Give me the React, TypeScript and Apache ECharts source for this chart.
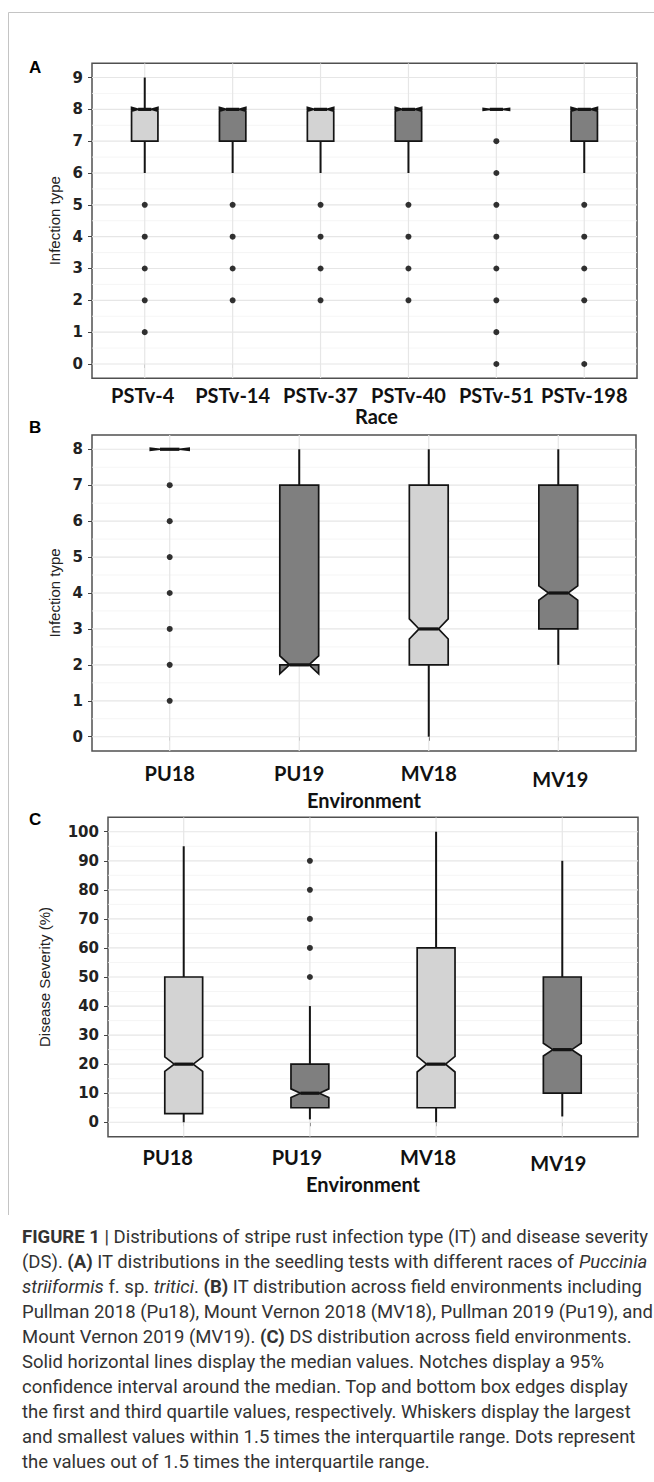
import React, { useEffect, useRef } from 'react';
import * as echarts from 'echarts';

// ---------- Panel A: infection type by race ----------
const raceCategories = ['PSTv-4', 'PSTv-14', 'PSTv-37', 'PSTv-40', 'PSTv-51', 'PSTv-198'];
const raceWhiskerLow = [6, 6, 6, 6, 8, 6];
const raceQ1 = [7, 7, 7, 7, 8, 7];
const raceMedian = [8, 8, 8, 8, 8, 8];
const raceQ3 = [8, 8, 8, 8, 8, 8];
const raceWhiskerHigh = [9, 8, 8, 8, 8, 8];
const raceNotchLow = [7.94, 7.94, 7.94, 7.94, 7.97, 7.94];
const raceNotchHigh = [8.06, 8.06, 8.06, 8.06, 8.03, 8.06];
const raceOutliers = [
  [5, 4, 3, 2, 1],
  [5, 4, 3, 2],
  [5, 4, 3, 2],
  [5, 4, 3, 2],
  [7, 6, 5, 4, 3, 2, 1, 0],
  [5, 4, 3, 2, 0],
];
const raceYTicks = [0, 1, 2, 3, 4, 5, 6, 7, 8, 9];

// ---------- Panel B: infection type by environment ----------
const envCategories = ['PU18', 'PU19', 'MV18', 'MV19'];
const envItWhiskerLow = [8, 2, 0, 2];
const envItQ1 = [8, 2, 2, 3];
const envItMedian = [8, 2, 3, 4];
const envItQ3 = [8, 7, 7, 7];
const envItWhiskerHigh = [8, 8, 8, 8];
const envItNotchLow = [7.97, 1.75, 2.72, 3.8];
const envItNotchHigh = [8.03, 2.25, 3.28, 4.2];
const envItOutliers = [[7, 6, 5, 4, 3, 2, 1], [], [], []];
const envItYTicks = [0, 1, 2, 3, 4, 5, 6, 7, 8];

// ---------- Panel C: disease severity by environment ----------
const envDsWhiskerLow = [0, 1, 0, 2];
const envDsQ1 = [3, 5, 5, 10];
const envDsMedian = [20, 10, 20, 25];
const envDsQ3 = [50, 20, 60, 50];
const envDsWhiskerHigh = [95, 40, 100, 90];
const envDsNotchLow = [17.5, 8.5, 17.3, 22.8];
const envDsNotchHigh = [22.5, 11.5, 22.7, 27.2];
const envDsOutliers = [[], [50, 60, 70, 80, 90], [], []];
const envDsYTicks = [0, 10, 20, 30, 40, 50, 60, 70, 80, 90, 100];

const captionLines: [string, string][][] = [
  [['b', 'FIGURE 1'], ['n', ' | Distributions of stripe rust infection type (IT) and disease severity']],
  [['n', '(DS). '], ['b', '(A)'], ['n', ' IT distributions in the seedling tests with different races of '], ['i', 'Puccinia']],
  [['i', 'striiformis'], ['n', ' f. sp. '], ['i', 'tritici'], ['n', '. '], ['b', '(B)'], ['n', ' IT distribution across field environments including']],
  [['n', 'Pullman 2018 (Pu18), Mount Vernon 2018 (MV18), Pullman 2019 (Pu19), and']],
  [['n', 'Mount Vernon 2019 (MV19). '], ['b', '(C)'], ['n', ' DS distribution across field environments.']],
  [['n', 'Solid horizontal lines display the median values. Notches display a 95%']],
  [['n', 'confidence interval around the median. Top and bottom box edges display']],
  [['n', 'the first and third quartile values, respectively. Whiskers display the largest']],
  [['n', 'and smallest values within 1.5 times the interquartile range. Dots represent']],
  [['n', 'the values out of 1.5 times the interquartile range.']],
];

const LIGHT = '#d3d3d3';
const DARK = '#7f7f7f';
const INK = '#141414';

type PanelSpec = {
  cats: string[];
  low: number[]; q1: number[]; med: number[]; q3: number[]; high: number[];
  nLo: number[]; nHi: number[];
  outliers: number[][];
  yTicks: number[];
  yMin: number; yMax: number;
  grid: { left: number; top: number; width: number; height: number };
  xName: string; xNameGap: number; xNameShift: number;
  yName: string; yNameGap: number;
  labelMargin: number;
  labelShift: [number, number][];
};

function buildPanel(p: PanelSpec, g: number) {
  const n = p.cats.length;
  const xMin = 0.4;
  const xMax = n + 0.6;
  const xs = p.cats.map((_, i) => i + 1);

  // grid lines: [position, orientation (0 horizontal, 1 vertical), major]
  const gridData: number[][] = [];
  p.yTicks.forEach((t) => gridData.push([t, 0, 1]));
  for (let i = 0; i < p.yTicks.length - 1; i++) gridData.push([(p.yTicks[i] + p.yTicks[i + 1]) / 2, 0, 0]);
  xs.forEach((x) => gridData.push([x, 1, 1]));

  const boxData = xs.map((x, i) => [x, p.low[i], p.q1[i], p.med[i], p.q3[i], p.high[i], p.nLo[i], p.nHi[i], i % 2]);
  const outlierData: number[][] = [];
  p.outliers.forEach((arr, i) => arr.forEach((v) => outlierData.push([i + 1, v])));

  const rich: any = {};
  p.cats.forEach((_, i) => {
    const [dx, dy] = p.labelShift[i];
    rich['l' + i] = {
      fontFamily: 'Lato', fontWeight: 'bold', fontSize: 20, color: '#111',
      padding: [Math.max(dy * 2, 0), dx > 0 ? 0 : -dx * 2, 0, dx > 0 ? dx * 2 : 0],
    };
  });

  const xAxis = {
    gridIndex: g, type: 'value', min: xMin, max: xMax,
    axisLine: { show: false }, splitLine: { show: false },
    axisTick: { show: true, customValues: xs, length: 4, lineStyle: { color: '#444', width: 1 } },
    axisLabel: {
      customValues: xs, margin: p.labelMargin,
      formatter: (v: number) => {
        const i = Math.round(v) - 1;
        return '{l' + i + '|' + p.cats[i] + '}';
      },
      rich,
    },
    name: p.xName, nameLocation: 'middle', nameGap: p.xNameGap,
    nameTextStyle: {
      fontFamily: 'Lato', fontWeight: 'bold', fontSize: 20, color: '#111',
      padding: [0, p.xNameShift < 0 ? -p.xNameShift * 2 : 0, 0, p.xNameShift > 0 ? p.xNameShift * 2 : 0],
    },
  };
  const yAxis = {
    gridIndex: g, type: 'value', min: p.yMin, max: p.yMax,
    axisLine: { show: false }, splitLine: { show: false },
    axisTick: { show: true, customValues: p.yTicks, length: 4, lineStyle: { color: '#444', width: 1 } },
    axisLabel: {
      customValues: p.yTicks, margin: 9,
      fontFamily: 'DejaVu Sans', fontWeight: 'bold', fontSize: 15, color: '#222',
    },
    name: p.yName, nameLocation: 'middle', nameRotate: 90, nameGap: p.yNameGap,
    nameTextStyle: { fontFamily: 'Liberation Sans', fontSize: 15, color: '#222' },
  };

  const series = [
    {
      type: 'custom', xAxisIndex: g, yAxisIndex: g, z: 1, silent: true, clip: true,
      data: gridData,
      renderItem: (_: any, api: any) => {
        const pos = api.value(0);
        const vertical = api.value(1) === 1;
        const major = api.value(2) === 1;
        const a = vertical ? api.coord([pos, p.yMin]) : api.coord([xMin, pos]);
        const b = vertical ? api.coord([pos, p.yMax]) : api.coord([xMax, pos]);
        return {
          type: 'line',
          shape: { x1: a[0], y1: a[1], x2: b[0], y2: b[1] },
          style: { stroke: major ? '#e6e6e6' : '#f2f2f2', lineWidth: major ? 1.2 : 0.8 },
        };
      },
    },
    {
      type: 'custom', xAxisIndex: g, yAxisIndex: g, z: 2, silent: true,
      data: boxData,
      renderItem: (_: any, api: any) => {
        const x = api.value(0);
        const lo = api.value(1), q1 = api.value(2), md = api.value(3), q3 = api.value(4), hi = api.value(5);
        const nl = api.value(6), nh = api.value(7);
        const shade = api.value(8);
        const hw = 0.15, nw = 0.075;
        const P = (xx: number, yy: number) => api.coord([xx, yy]);
        const pts = [
          P(x - hw, q3), P(x - hw, nh), P(x - nw, md), P(x - hw, nl), P(x - hw, q1),
          P(x + hw, q1), P(x + hw, nl), P(x + nw, md), P(x + hw, nh), P(x + hw, q3),
        ];
        const top = P(x, q3), up = P(x, hi), bot = P(x, q1), down = P(x, lo);
        const mL = P(x - nw, md), mR = P(x + nw, md);
        const children: any[] = [];
        if (hi > q3) children.push({ type: 'line', shape: { x1: top[0], y1: top[1], x2: up[0], y2: up[1] }, style: { stroke: INK, lineWidth: 2 } });
        if (lo < q1) children.push({ type: 'line', shape: { x1: bot[0], y1: bot[1], x2: down[0], y2: down[1] }, style: { stroke: INK, lineWidth: 2 } });
        children.push({ type: 'polygon', shape: { points: pts }, style: { fill: shade === 0 ? LIGHT : DARK, stroke: INK, lineWidth: 1.7, lineJoin: 'miter' } });
        children.push({ type: 'line', shape: { x1: mL[0], y1: mL[1], x2: mR[0], y2: mR[1] }, style: { stroke: INK, lineWidth: 3.2 } });
        return { type: 'group', children };
      },
    },
    {
      type: 'scatter', xAxisIndex: g, yAxisIndex: g, z: 3, silent: true,
      symbol: 'circle', symbolSize: 6,
      itemStyle: { color: '#000' },
      data: outlierData,
    },
  ];

  const grid = { ...p.grid, show: true, borderColor: '#505050', borderWidth: 1.5, backgroundColor: '#fff', containLabel: false };
  return { grid, xAxis, yAxis, series };
}

const panelA: PanelSpec = {
  cats: raceCategories, low: raceWhiskerLow, q1: raceQ1, med: raceMedian, q3: raceQ3, high: raceWhiskerHigh,
  nLo: raceNotchLow, nHi: raceNotchHigh, outliers: raceOutliers, yTicks: raceYTicks,
  yMin: -0.45, yMax: 9.45,
  grid: { left: 92, top: 63.2, width: 545, height: 315.1 },
  xName: 'Race', xNameGap: 24, xNameShift: 12,
  yName: 'Infection type', yNameGap: 30,
  labelMargin: 7,
  labelShift: [[-2, 0], [0, 0], [0, 0], [0, 0], [0, 0], [0, 0]],
};
const panelB: PanelSpec = {
  cats: envCategories, low: envItWhiskerLow, q1: envItQ1, med: envItMedian, q3: envItQ3, high: envItWhiskerHigh,
  nLo: envItNotchLow, nHi: envItNotchHigh, outliers: envItOutliers, yTicks: envItYTicks,
  yMin: -0.4, yMax: 8.4,
  grid: { left: 92, top: 434.9, width: 544, height: 316.2 },
  xName: 'Environment', xNameGap: 30, xNameShift: 0,
  yName: 'Infection type', yNameGap: 30,
  labelMargin: 12,
  labelShift: [[0, 0], [0, 0], [0, 0], [2, 3]],
};
const panelC: PanelSpec = {
  cats: envCategories, low: envDsWhiskerLow, q1: envDsQ1, med: envDsMedian, q3: envDsQ3, high: envDsWhiskerHigh,
  nLo: envDsNotchLow, nHi: envDsNotchHigh, outliers: envDsOutliers, yTicks: envDsYTicks,
  yMin: -5, yMax: 105,
  grid: { left: 108, top: 817.2, width: 530, height: 319.6 },
  xName: 'Environment', xNameGap: 29, xNameShift: -10,
  yName: 'Disease Severity (%)', yNameGap: 56,
  labelMargin: 10,
  labelShift: [[-16, 0], [-13, 0], [-8, 0], [-4, 3]],
};

function captionText(line: [string, string][]) {
  return line.map(([k, t]) => '{' + k + '|' + t + '}').join('');
}

export default function App() {
  const ref = useRef<HTMLDivElement>(null);
  useEffect(() => {
    if (!ref.current) return;
    const chart = echarts.init(ref.current, undefined, { renderer: 'svg' });
    const panels = [buildPanel(panelA, 0), buildPanel(panelB, 1), buildPanel(panelC, 2)];

    const capFont = "'Liberation Sans Narrow', 'Roboto', sans-serif";
    const capSize = 18.5;
    const capRich = {
      n: { fontFamily: capFont, fontSize: capSize, fill: '#333', fontWeight: 'normal' },
      b: { fontFamily: capFont, fontSize: capSize, fill: '#333', fontWeight: 'bold' },
      i: { fontFamily: capFont, fontSize: capSize, fill: '#333', fontStyle: 'italic' },
    };

    const graphic: any[] = [
      { type: 'line', shape: { x1: 8.5, y1: 12.5, x2: 654, y2: 12.5 }, style: { stroke: '#c4c4c4', lineWidth: 1 }, silent: true },
      { type: 'line', shape: { x1: 8.5, y1: 12.5, x2: 8.5, y2: 1215 }, style: { stroke: '#c4c4c4', lineWidth: 1 }, silent: true },
      ...[['A', 67], ['B', 427], ['C', 819]].map(([t, y]) => ({
        type: 'text', x: 29, y: y as number, silent: true,
        style: { text: t as string, fontFamily: 'Liberation Sans', fontWeight: 'bold', fontSize: 17, fill: '#000', verticalAlign: 'middle' },
      })),
      ...captionLines.map((line, i) => ({
        type: 'text', x: 22, y: 1237 + i * 25, silent: true,
        style: { text: captionText(line), rich: capRich, verticalAlign: 'middle', fontFamily: capFont, fontSize: capSize, fill: '#333' },
      })),
    ];

    chart.setOption({
      animation: false,
      backgroundColor: '#fff',
      grid: panels.map((p) => p.grid),
      xAxis: panels.map((p) => p.xAxis),
      yAxis: panels.map((p) => p.yAxis),
      series: panels.flatMap((p) => p.series),
      graphic,
    });
    return () => chart.dispose();
  }, []);
  return <div ref={ref} style={{ position: 'absolute', left: 0, top: 0, width: 654, height: 1482 }} />;
}
